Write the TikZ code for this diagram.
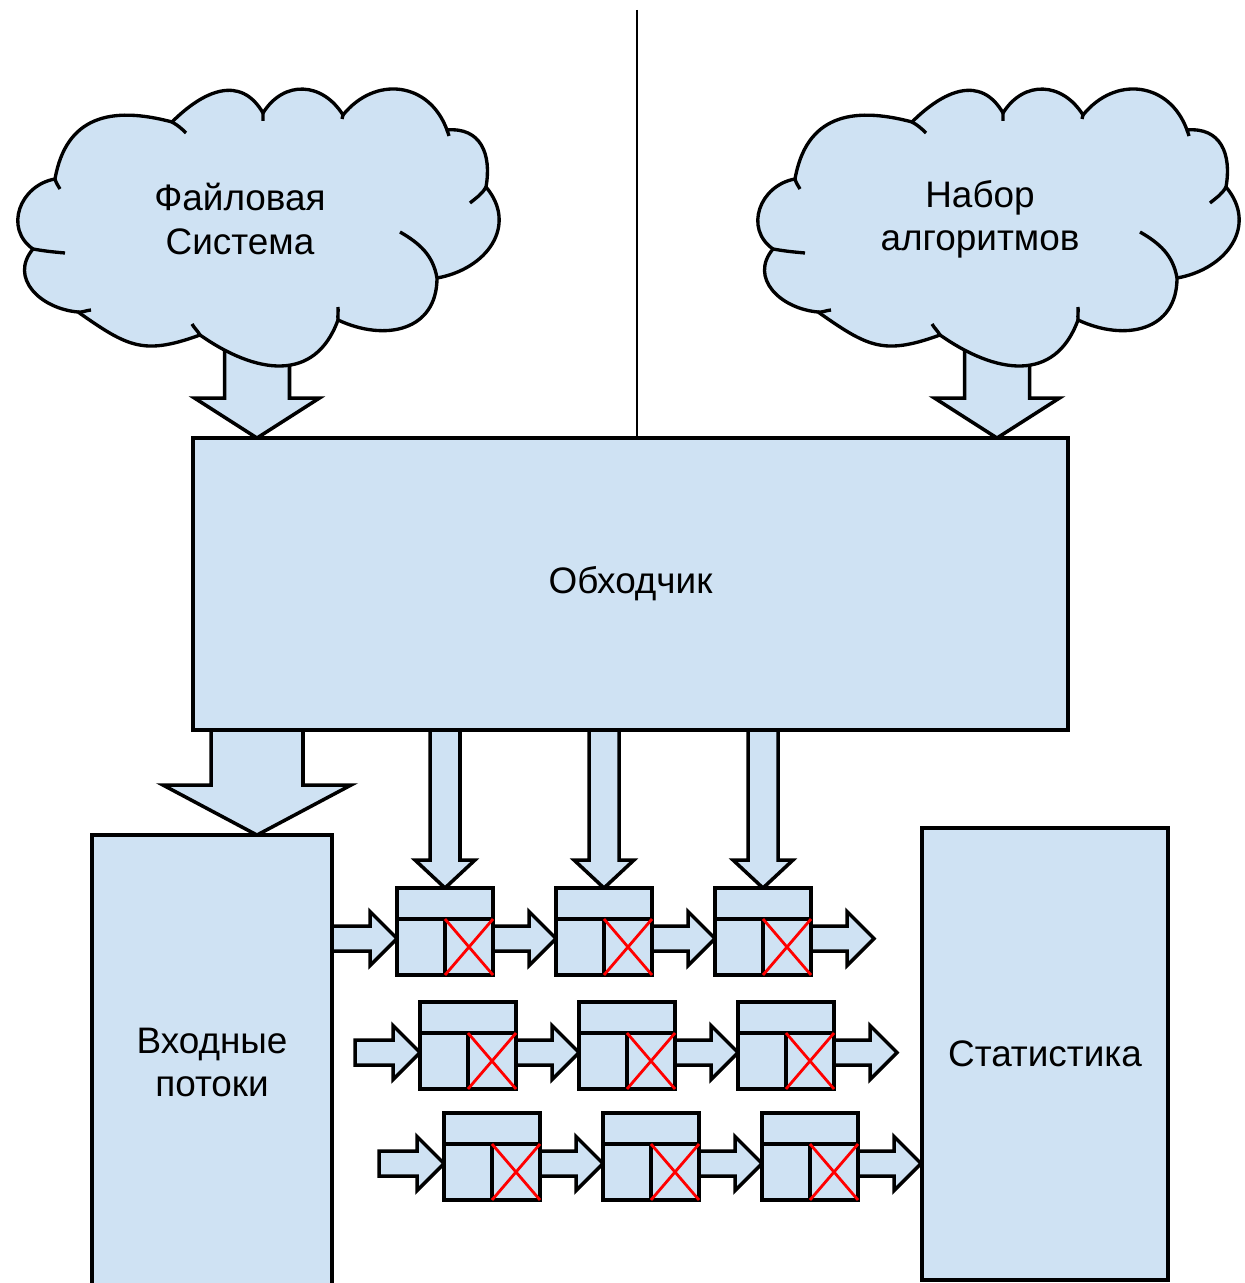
\documentclass[tikz,border=0pt]{standalone}
\usepackage{fontspec}
\setmainfont{Liberation Sans}
\usepackage{xcolor}
\usetikzlibrary{arrows.meta,positioning,calc,backgrounds}
\definecolor{boxblue}{RGB}{207,226,243}

% block arrows, #1 start, #2 tip
\newcommand{\rarrow}[2]{\draw[blockarrow] let \p1=(#1), \p2=(#2) in (\x1,\y2+0.25cm) -- (\x2-0.54cm,\y2+0.25cm) -- (\x2-0.54cm,\y2+0.54cm) -- (\x2,\y2) -- (\x2-0.54cm,\y2-0.54cm) -- (\x2-0.54cm,\y2-0.25cm) -- (\x1,\y2-0.25cm) -- cycle;}
\newcommand{\darrow}[5]{\draw[blockarrow] let \p1=(#1), \p2=(#2) in (\x2-#3,\y1) -- (\x2-#3,\y2+#5) -- (\x2-#4,\y2+#5) -- (\x2,\y2) -- (\x2+#4,\y2+#5) -- (\x2+#3,\y2+#5) -- (\x2+#3,\y1) -- cycle;}

\tikzset{
  box/.style={draw,fill=boxblue,line width=2pt,outer sep=0pt,inner sep=0pt,align=center,font=\fontsize{21pt}{24.5pt}\selectfont},
  cloudtext/.style={align=center,font=\fontsize{21pt}{24.5pt}\selectfont},
  cell/.style={draw,fill=boxblue,line width=2pt,outer sep=0pt,inner sep=0pt,minimum width=1.92cm,minimum height=1.74cm},
  blockarrow/.style={draw,fill=boxblue,line width=2pt,line join=miter},
  cross/.style={red,line width=1.6pt},
  cloudy/.pic={
    \draw[fill=boxblue,line width=1.9pt,looseness=1.25] (55,179) to[out=80,in=165] (172,122) to[out=45,in=120] (263,113)
      to[out=58,in=122] (343,115) to[out=51,in=110] (447,130) to[out=5,in=80] (486,187)
      to[out=-50,in=10] (437,278) to[out=-90,in=-25] (338,320) to[out=-110,in=-35] (200,335)
      to[out=-160,in=-35] (78,312) to[out=175,in=230] (33,249) to[out=145,in=190] (55,179) -- cycle;
    \draw[line width=1.9pt] (55,179) to[out=-75,in=120] (60,189)
      (172,122) to[out=-30,in=135] (186,133)
      (263,113) -- (263,121)
      (343,115) -- (342,119)
      (447,130) -- (449,136)
      (486,187) to[out=-120,in=40] (470,203)
      (437,278) to[out=100,in=-30] (400,232)
      (338,320) to[out=95,in=-85] (338,307)
      (200,335) to[out=120,in=-60] (192,324)
      (78,312) to[out=-5,in=185] (91,310)
      (33,249) to[out=-10,in=175] (65,253);
  }
}

\begin{document}
\begin{tikzpicture}[x=0.02cm,y=-0.02cm]
\useasboundingbox (0,0) rectangle (1244,1283);
\clip (0,0) rectangle (1244,1283);

% clouds
\pic at (0,0) {cloudy};
\pic at (740,0) {cloudy};
\node[cloudtext] (fs) at (240,219) {Файловая\\Система};
\node[cloudtext] (algo) at (980,219) {Набор\\алгоритмов};
\coordinate (fs-out) at (257,340);
\coordinate (algo-out) at (997,340);

% main blocks
\node[box,minimum width=17.5cm,minimum height=5.84cm] (walker) at (630.5,584) {Обходчик};
\node[box,minimum width=4.8cm,minimum height=9.1cm] (input) at (212,1062.5) {Входные\\потоки};
\node[box,minimum width=4.92cm,minimum height=9.04cm] (stats) at (1045,1054) {Статистика};

\coordinate (topend) at (637,10);
\draw[line width=1.2pt] (topend) -- (topend |- walker.north);

% queues
\foreach \r/\ry/\rx in {1/888/397,2/1002/420,3/1113/444} {
  \foreach \c in {1,2,3} {
    \node[cell] (q-\r-\c) at ({\rx+159*(\c-1)+48},{\ry+43.5}) {};
    \draw[line width=2pt] ($(q-\r-\c.north west)+(0,31)$) -- ($(q-\r-\c.north east)+(0,31)$)
      ($(q-\r-\c.north)+(0,31)$) -- (q-\r-\c.south);
    \draw[cross] ($(q-\r-\c.north)+(0,31)$) -- (q-\r-\c.south east)
      ($(q-\r-\c.north east)+(0,31)$) -- (q-\r-\c.south);
  }
}
\coordinate (in-1) at (input.east);
\coordinate (in-2) at ($(q-2-1.west)+(-65,0)$);
\coordinate (in-3) at ($(q-3-1.west)+(-65,0)$);

\begin{scope}[on background layer]
\darrow{fs-out}{fs-out |- walker.north}{0.65cm}{1.25cm}{0.8cm}
\darrow{algo-out}{algo-out |- walker.north}{0.65cm}{1.25cm}{0.8cm}
\darrow{fs-out |- walker.south}{fs-out |- input.north}{0.92cm}{1.88cm}{1.0cm}
\foreach \c in {1,2,3} {
  \darrow{walker.south -| q-1-\c.north}{q-1-\c.north}{0.3cm}{0.6cm}{0.56cm}
}
\foreach \r in {1,2,3} {
  \coordinate (out-\r) at ($(q-\r-3.east)+(63,7)$);
  \rarrow{in-\r}{$(q-\r-1.west)+(0,7)$}
  \rarrow{q-\r-1.east}{$(q-\r-2.west)+(0,7)$}
  \rarrow{q-\r-2.east}{$(q-\r-3.west)+(0,7)$}
  \rarrow{q-\r-3.east}{out-\r}
}
\end{scope}
\end{tikzpicture}
\end{document}
